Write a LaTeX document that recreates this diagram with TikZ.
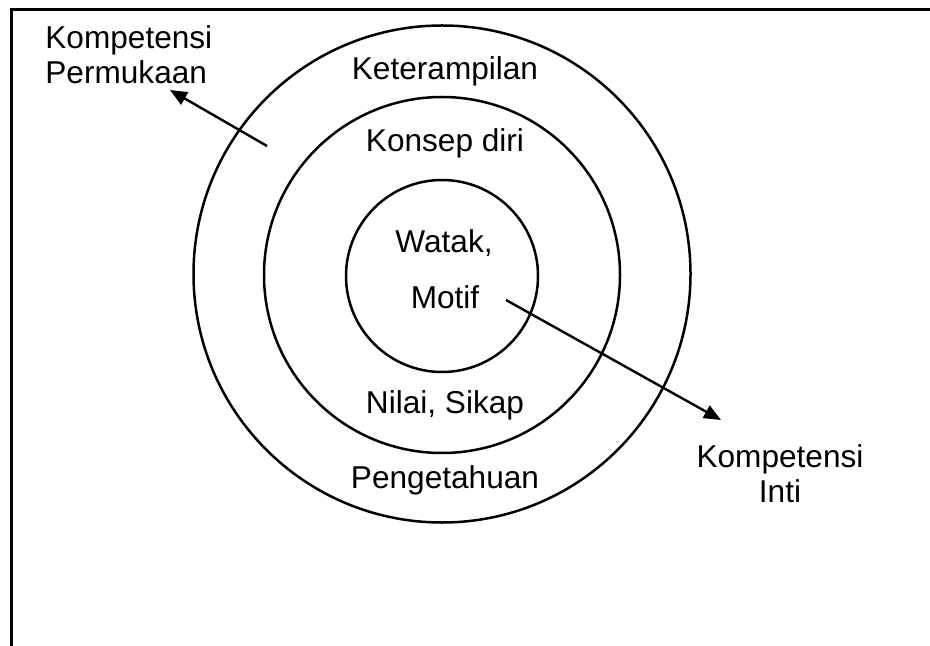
\documentclass[tikz,border=0pt]{standalone}
\usepackage{fontspec}
\setmainfont{Liberation Sans}
\usetikzlibrary{positioning, arrows.meta}

\tikzset{
  ring/.style={circle, draw, line width=1.25pt, inner sep=0pt},
  lbl/.style={inner sep=0pt, font=\fontsize{15.8}{17.5}\selectfont},
  pointer/.style={line width=1.2pt, -{Triangle[length=8.5pt, width=7pt]}}
}

\begin{document}
\begin{tikzpicture}[x=0.5pt, y=-0.5pt]
\useasboundingbox (0,0) rectangle (930,646);
% frame
\draw[line width=1.5pt] (11,646) -- (11,10) -- (930,10);

% rings
\node(outer)[ring, minimum size=248.5pt] at (442,274){};
\node(middle)[ring, minimum size=178pt] at (442,275){};
\node(inner)[ring, minimum size=96pt] at (442,276){};

% labels
\node(skill)[lbl] at (445,71){Keterampilan};
\node(self)[lbl] at (445,143){Konsep diri};
\node(trait)[lbl] at (444,243){Watak,};
\node(motive)[lbl] at (445,297){Motif};
\node(value)[lbl] at (445,405){Nilai, Sikap};
\node(know)[lbl] at (445,480){Pengetahuan};

\node(surface)[lbl, align=left, anchor=west] at (45,55){Kompetensi\\Permukaan};
\node(core)[lbl, align=center] at (780,474){Kompetensi\\Inti};

% arrows
\coordinate(s0) at (267,146);
\coordinate(s1) at (170,90);
\coordinate(c0) at (506,300);
\coordinate(c1) at (721,420);
\draw[pointer] (s0) -- (s1);
\draw[pointer] (c0) -- (c1);
\end{tikzpicture}
\end{document}
